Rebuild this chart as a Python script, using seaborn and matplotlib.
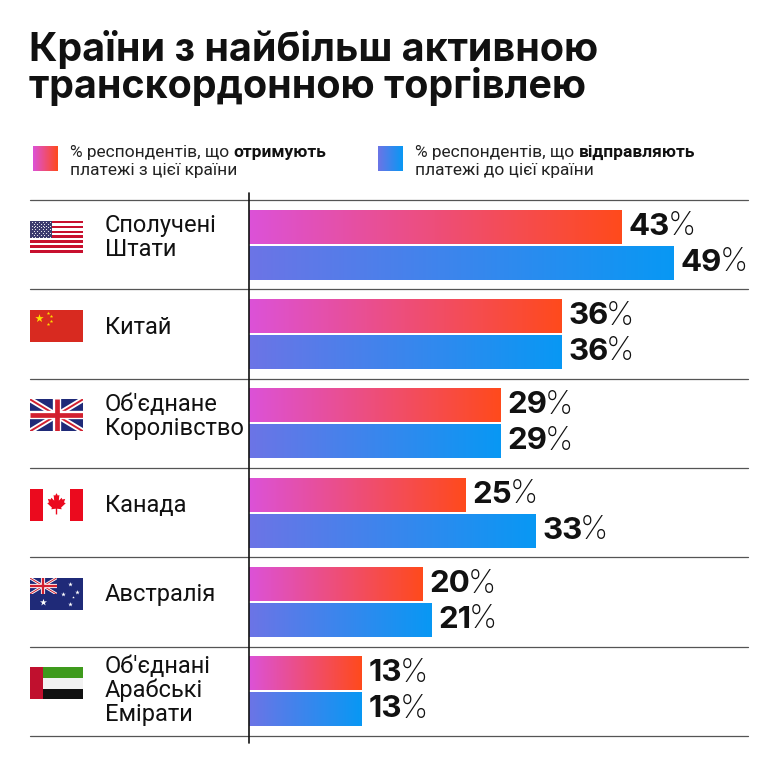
import numpy as np
import pandas as pd
import matplotlib
matplotlib.use("Agg")
import matplotlib.pyplot as plt
import seaborn as sns
from matplotlib.colors import LinearSegmentedColormap
from matplotlib.transforms import offset_copy, blended_transform_factory
from matplotlib.patches import Rectangle, Polygon

# ---------------- data ----------------
countries = ["Сполучені\nШтати", "Китай", "Об'єднане\nКоролівство", "Канада",
             "Австралія", "Об'єднані\nАрабські\nЕмірати"]
receive = [43, 36, 29, 25, 20, 13]
send = [49, 36, 29, 33, 21, 13]
series = ["receive", "send"]
title_lines = ["Країни з найбільш активною", "транскордонною торгівлею"]
legend_receive = [("% респондентів, що ", "отримують"), ("платежі з цієї країни", None)]
legend_send = [("% респондентів, що ", "відправляють"), ("платежі до цієї країни", None)]

W = H = 764
sns.set_theme(style="white")
plt.rcParams["font.family"] = ["Roboto", "DejaVu Sans"]
NUMFONT = ["Inter", "Roboto", "DejaVu Sans"]

fig = plt.figure(figsize=(W / 100, H / 100), dpi=100)
fig.patch.set_facecolor("white")


def fx(x):
    return x / W


def fy(y):
    return 1 - y / H


# ---------------- main axes ----------------
top_px, bot_px, left_px = 200, 736, 249
ax = fig.add_axes([fx(left_px), fy(bot_px), 1 - fx(left_px), (bot_px - top_px) / H])
px_per_unit = 8.67
xmax = (W - left_px) / px_per_unit

df = pd.DataFrame({
    "country": countries * 2,
    "series": ["receive"] * len(countries) + ["send"] * len(countries),
    "value": receive + send,
})
sns.barplot(data=df, y="country", x="value", hue="series", hue_order=series,
            order=countries, orient="h", width=0.8, gap=0.05, legend=False,
            palette={"receive": "#ff0000", "send": "#0000ff"}, ax=ax,
            errorbar=None, saturation=1)

cmap_r = LinearSegmentedColormap.from_list("r", ["#dc52d8", "#ff4a1c"])
cmap_s = LinearSegmentedColormap.from_list("s", ["#6c74e6", "#0898f4"])
grad = np.linspace(0, 1, 256).reshape(1, -1)

bars = list(ax.patches)
renderer = fig.canvas.get_renderer()
for p in bars:
    fc = p.get_facecolor()
    is_recv = fc[0] > 0.5
    x0, y0, w, h = p.get_x(), p.get_y(), p.get_width(), p.get_height()
    p.set_facecolor("none")
    p.set_edgecolor("none")
    ax.imshow(grad, cmap=cmap_r if is_recv else cmap_s, aspect="auto",
              extent=[x0, x0 + w, y0 + h, y0], interpolation="bicubic", zorder=2)
    val = w
    tr = offset_copy(ax.transData, fig=fig, x=7, y=0, units="dots")
    t = ax.text(x0 + w, y0 + h / 2, f"{val:.0f}", transform=tr, ha="left", va="center",
                fontsize=22.5, fontweight="bold", color="#111111", clip_on=False,
                family=NUMFONT)
    bb = t.get_window_extent(renderer)
    tr2 = offset_copy(ax.transData, fig=fig, x=7 + bb.width - 2.5, y=0, units="dots")
    ax.text(x0 + w, y0 + h / 2, "%", transform=tr2, ha="left", va="center",
            fontsize=23, fontweight="light", color="#111111", clip_on=False,
            family=NUMFONT)

ax.set_xlim(0, xmax)
ax.set_ylim(len(countries) - 0.5, -0.5)
ax.set_axis_off()

# separators
btr = blended_transform_factory(fig.transFigure, ax.transData)
for k in range(len(countries) + 1):
    ax.plot([fx(30), fx(748)], [k - 0.5, k - 0.5], transform=btr, color="#555555",
            lw=0.9, clip_on=False, zorder=1)
# vertical axis line
vtr = blended_transform_factory(ax.transData, fig.transFigure)
ax.plot([0, 0], [fy(193), fy(743)], transform=vtr, color="#111111", lw=1.2,
        clip_on=False, zorder=3)

# ---------------- country labels ----------------
for i, name in enumerate(countries):
    ydisp = ax.transData.transform((0, i))[1]
    ypx = H - ydisp
    off = -1 if name.count("\n") == 2 else -7
    fig.text(fx(105), fy(ypx + off), name, ha="left", va="center", fontsize=17,
             color="#111111", linespacing=1.05)

# ---------------- flags ----------------
def flag_axes(cy, h=32, w=53):
    fa = fig.add_axes([fx(30), fy(cy + h / 2), w / W, h / H])
    fa.set_xlim(0, w)
    fa.set_ylim(0, h)
    fa.set_axis_off()
    return fa, w, h


def union_jack(fa, x0, y0, w, h, scale=1.0):
    clip = Rectangle((x0, y0), w, h, transform=fa.transData)
    fa.add_patch(Rectangle((x0, y0), w, h, color="#1f2a78", zorder=1))
    for xs, ys in [([x0, x0 + w], [y0, y0 + h]), ([x0, x0 + w], [y0 + h, y0])]:
        l1, = fa.plot(xs, ys, color="white", lw=4 * scale, solid_capstyle="butt", zorder=2)
        l2, = fa.plot(xs, ys, color="#d2202f", lw=1.4 * scale, solid_capstyle="butt", zorder=3)
        l1.set_clip_path(clip)
        l2.set_clip_path(clip)
    for xs, ys in [([x0, x0 + w], [y0 + h / 2] * 2), ([x0 + w / 2] * 2, [y0, y0 + h])]:
        l1, = fa.plot(xs, ys, color="white", lw=6 * scale, solid_capstyle="butt", zorder=4)
        l2, = fa.plot(xs, ys, color="#d2202f", lw=3.4 * scale, solid_capstyle="butt", zorder=5)
        l1.set_clip_path(clip)
        l2.set_clip_path(clip)


def draw_us(fa, w, h):
    sh = h / 13
    for k in range(13):
        fa.add_patch(Rectangle((0, h - (k + 1) * sh), w, sh,
                               color="#c8102e" if k % 2 == 0 else "white", lw=0))
    cw, ch = 0.42 * w, 7 * sh
    fa.add_patch(Rectangle((0, h - ch), cw, ch, color="#3c3b6e", lw=0, zorder=2))
    xs, ys = [], []
    for r in range(9):
        ncol = 6 if r % 2 == 0 else 5
        for c in range(ncol):
            xs.append(cw * ((c + (0.5 if r % 2 == 0 else 1.0)) / 6.2))
            ys.append(h - ch * (r + 0.7) / 9.4)
    fa.scatter(xs, ys, s=0.6, color="white", zorder=3, linewidths=0)


def draw_cn(fa, w, h):
    fa.add_patch(Rectangle((0, 0), w, h, color="#d82a20", lw=0))
    fa.scatter([w * 5 / 30], [h * (1 - 5 / 20)], marker="*", s=40, color="#ffde00",
               linewidths=0, zorder=2)
    sx = [10, 12, 12, 10]
    sy = [2, 4, 7, 9]
    fa.scatter([w * a / 30 for a in sx], [h * (1 - b / 20) for b in sy], marker="*",
               s=7, color="#ffde00", linewidths=0, zorder=2)


def draw_uk(fa, w, h):
    union_jack(fa, 0, 0, w, h, 1.0)


def draw_ca(fa, w, h):
    fa.add_patch(Rectangle((0, 0), w, h, color="white", lw=0))
    fa.add_patch(Rectangle((0, 0), w / 4, h, color="#eb0a1e", lw=0))
    fa.add_patch(Rectangle((3 * w / 4, 0), w / 4, h, color="#eb0a1e", lw=0))
    half = [(0, 1.0), (0.12, 0.78), (0.25, 0.85), (0.2, 0.35), (0.45, 0.6), (0.5, 0.45),
            (0.75, 0.5), (0.65, 0.2), (0.8, 0.12), (0.4, -0.25), (0.45, -0.4),
            (0.06, -0.35), (0.06, -0.85)]
    pts = half + [(-x, y) for x, y in reversed(half)]
    cx, cy, s = w / 2, h / 2, h * 0.36
    poly = [(cx + x * s, cy + y * s) for x, y in pts]
    fa.add_patch(Polygon(poly, closed=True, color="#eb0a1e", lw=0, zorder=2))


def draw_au(fa, w, h):
    fa.add_patch(Rectangle((0, 0), w, h, color="#1f2a78", lw=0))
    union_jack(fa, 0, h / 2, w / 2, h / 2, 0.5)
    fa.scatter([w / 4], [h / 4], marker="*", s=28, color="white", linewidths=0, zorder=6)
    fa.scatter([0.75 * w, 0.62 * w, 0.88 * w, 0.75 * w], [0.82 * h, 0.5 * h, 0.56 * h, 0.18 * h],
               marker="*", s=12, color="white", linewidths=0, zorder=6)
    fa.scatter([0.82 * w], [0.42 * h], marker="*", s=4, color="white", linewidths=0, zorder=6)


def draw_ae(fa, w, h):
    fa.add_patch(Rectangle((w / 4, 2 * h / 3), 3 * w / 4, h / 3, color="#3e9a1c", lw=0))
    fa.add_patch(Rectangle((w / 4, h / 3), 3 * w / 4, h / 3, color="#f2f2f2", lw=0))
    fa.add_patch(Rectangle((w / 4, 0), 3 * w / 4, h / 3, color="#111111", lw=0))
    fa.add_patch(Rectangle((0, 0), w / 4, h, color="#c0102e", lw=0))


drawers = [draw_us, draw_cn, draw_uk, draw_ca, draw_au, draw_ae]
for i, dr in enumerate(drawers):
    ydisp = ax.transData.transform((0, i))[1]
    cy = H - ydisp - 8
    fa, w, h = flag_axes(cy)
    dr(fa, w, h)

# ---------------- title ----------------
TFONT = ["Inter", "Roboto", "DejaVu Sans"]
fig.text(fx(29), fy(61), title_lines[0], ha="left", va="baseline", fontsize=28.4,
         fontweight="bold", color="#111111", family=TFONT)
fig.text(fx(29), fy(98), title_lines[1], ha="left", va="baseline", fontsize=28.4,
         fontweight="bold", color="#111111", family=TFONT)

# ---------------- legend ----------------
def legend_block(sq_x, text_x, cmap, lines):
    la = fig.add_axes([fx(sq_x), fy(171), 25 / W, 25 / H])
    la.imshow(grad, cmap=cmap, aspect="auto", interpolation="bicubic")
    la.set_axis_off()
    for (plain, bold), base in zip(lines, [157, 175]):
        t = fig.text(fx(text_x), fy(base), plain, ha="left", va="baseline",
                     fontsize=12.5, color="#222222")
        if bold:
            bb = t.get_window_extent(renderer)
            fig.text(fx(text_x) + bb.width / W, fy(base), bold, ha="left", va="baseline",
                     fontsize=12.5, fontweight="bold", color="#111111")


legend_block(33, 70, cmap_r, legend_receive)
legend_block(378, 415, cmap_s, legend_send)

fig.savefig("out.png", dpi=100, facecolor="white")
